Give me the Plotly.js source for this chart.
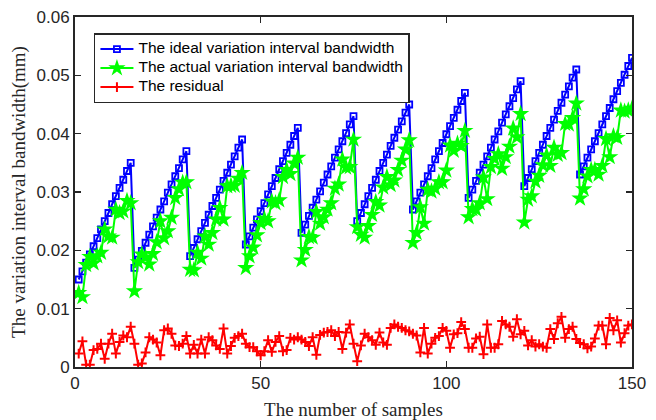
<!DOCTYPE html>
<html>
<head>
<meta charset="utf-8">
<script src="https://cdn.plot.ly/plotly-3.0.1.min.js"></script>
<style>html,body{margin:0;padding:0;background:#fff}#chart{width:656px;height:420px}</style>
</head>
<body>
<div id="chart"></div>
<script>
// sample numbers 1..150
const samples = Array.from({length: 150}, (_, i) => i + 1);

const ideal = [
0.0150,0.0164,0.0179,0.0193,0.0207,0.0221,0.0236,0.0250,0.0264,0.0279,0.0293,0.0307,0.0321,0.0336,0.0350,
0.0170,0.0184,0.0199,0.0213,0.0227,0.0241,0.0256,0.0270,0.0284,0.0299,0.0313,0.0327,0.0341,0.0356,0.0370,
0.0190,0.0204,0.0219,0.0233,0.0247,0.0261,0.0276,0.0290,0.0304,0.0319,0.0333,0.0347,0.0361,0.0376,0.0390,
0.0210,0.0224,0.0239,0.0253,0.0267,0.0281,0.0296,0.0310,0.0324,0.0339,0.0353,0.0367,0.0381,0.0396,0.0410,
0.0230,0.0244,0.0259,0.0273,0.0287,0.0301,0.0316,0.0330,0.0344,0.0359,0.0373,0.0387,0.0401,0.0416,0.0430,
0.0250,0.0264,0.0279,0.0293,0.0307,0.0321,0.0336,0.0350,0.0364,0.0379,0.0393,0.0407,0.0421,0.0436,0.0450,
0.0270,0.0284,0.0299,0.0313,0.0327,0.0341,0.0356,0.0370,0.0384,0.0399,0.0413,0.0427,0.0441,0.0456,0.0470,
0.0290,0.0304,0.0319,0.0333,0.0347,0.0361,0.0376,0.0390,0.0404,0.0419,0.0433,0.0447,0.0461,0.0476,0.0490,
0.0310,0.0324,0.0339,0.0353,0.0367,0.0381,0.0396,0.0410,0.0424,0.0439,0.0453,0.0467,0.0481,0.0496,0.0510,
0.0330,0.0344,0.0359,0.0373,0.0387,0.0401,0.0416,0.0430,0.0444,0.0459,0.0473,0.0487,0.0501,0.0516,0.0530
];

const actual = [
0.0127,0.0120,0.0175,0.0189,0.0178,0.0190,0.0196,0.0236,0.0224,0.0222,0.0270,0.0264,0.0267,0.0285,0.0281,
0.0130,0.0180,0.0193,0.0188,0.0176,0.0194,0.0214,0.0250,0.0221,0.0233,0.0256,0.0290,0.0305,0.0316,0.0317,
0.0167,0.0166,0.0196,0.0186,0.0224,0.0210,0.0230,0.0253,0.0273,0.0253,0.0310,0.0311,0.0311,0.0323,0.0333,
0.0170,0.0190,0.0205,0.0226,0.0247,0.0254,0.0250,0.0284,0.0281,0.0286,0.0326,0.0338,0.0331,0.0349,0.0359,
0.0183,0.0201,0.0223,0.0222,0.0266,0.0246,0.0257,0.0270,0.0281,0.0306,0.0313,0.0356,0.0342,0.0343,0.0390,
0.0240,0.0227,0.0222,0.0242,0.0261,0.0283,0.0277,0.0308,0.0326,0.0312,0.0320,0.0338,0.0354,0.0373,0.0389,
0.0213,0.0230,0.0274,0.0246,0.0304,0.0301,0.0306,0.0317,0.0317,0.0337,0.0380,0.0371,0.0383,0.0379,0.0405,
0.0257,0.0271,0.0270,0.0281,0.0325,0.0288,0.0343,0.0357,0.0365,0.0340,0.0360,0.0378,0.0409,0.0394,0.0434,
0.0248,0.0287,0.0293,0.0318,0.0328,0.0346,0.0363,0.0345,0.0376,0.0364,0.0367,0.0417,0.0416,0.0427,0.0452,
0.0289,0.0305,0.0327,0.0338,0.0338,0.0330,0.0345,0.0391,0.0360,0.0396,0.0393,0.0440,0.0438,0.0440,0.0443
];

const residual = [
0.0023,0.0044,0.0004,0.0004,0.0029,0.0031,0.0040,0.0014,0.0040,0.0057,0.0023,0.0043,0.0054,0.0051,0.0069,
0.0040,0.0004,0.0006,0.0025,0.0051,0.0047,0.0042,0.0020,0.0063,0.0066,0.0057,0.0037,0.0036,0.0040,0.0053,
0.0023,0.0038,0.0023,0.0047,0.0023,0.0051,0.0046,0.0037,0.0031,0.0066,0.0023,0.0036,0.0050,0.0053,0.0057,
0.0040,0.0034,0.0034,0.0027,0.0020,0.0027,0.0046,0.0026,0.0043,0.0053,0.0027,0.0029,0.0050,0.0047,0.0051,
0.0047,0.0043,0.0036,0.0051,0.0021,0.0055,0.0059,0.0060,0.0063,0.0053,0.0060,0.0031,0.0059,0.0073,0.0040,
0.0010,0.0037,0.0057,0.0051,0.0046,0.0038,0.0059,0.0042,0.0038,0.0067,0.0073,0.0069,0.0067,0.0063,0.0061,
0.0057,0.0054,0.0025,0.0067,0.0023,0.0040,0.0050,0.0053,0.0067,0.0062,0.0033,0.0056,0.0058,0.0077,0.0065,
0.0033,0.0033,0.0049,0.0052,0.0022,0.0073,0.0033,0.0033,0.0039,0.0079,0.0073,0.0069,0.0052,0.0082,0.0056,
0.0062,0.0037,0.0046,0.0035,0.0039,0.0035,0.0033,0.0065,0.0048,0.0075,0.0086,0.0050,0.0065,0.0069,0.0048,
0.0041,0.0039,0.0032,0.0035,0.0049,0.0071,0.0071,0.0039,0.0084,0.0063,0.0080,0.0042,0.0058,0.0071,0.0073
];

const seriesNames = [
  'The ideal variation interval bandwidth',
  'The actual variation interval bandwidth',
  'The residual'
];
const xTickVals = [0, 50, 100, 150];
const yTickVals = [0, 0.01, 0.02, 0.03, 0.04, 0.05, 0.06];
const xTitle = 'The number of samples';
const yTitle = 'The variation interval bandwidth(mm)';

// legend text drawn larger than the legend's nominal font so rows stay tight (MATLAB-like)
const legendLabel = s => '<span style="font-size:15.5px">' + s + '</span>';

const traces = [
  {x: samples, y: ideal, name: legendLabel(seriesNames[0]), type: 'scatter', mode: 'lines+markers',
   line: {color: '#0000FF', width: 2},
   marker: {symbol: 'square-open', size: 6, color: '#0000FF', line: {width: 1.8, color: '#0000FF'}}},
  {x: samples, y: actual, name: legendLabel(seriesNames[1]), type: 'scatter', mode: 'lines+markers',
   line: {color: '#00FF00', width: 2},
   marker: {symbol: 'star', size: 13, color: '#00FF00', line: {width: 0}}},
  {x: samples, y: residual, name: legendLabel(seriesNames[2]), type: 'scatter', mode: 'lines+markers',
   line: {color: '#FF0000', width: 2},
   marker: {symbol: 'cross-thin', size: 7, color: '#FF0000', line: {width: 2, color: '#FF0000'}}}
];

const axisCommon = {
  showgrid: false, zeroline: false, showline: true, mirror: 'ticks',
  linecolor: '#262626', linewidth: 2, ticks: 'inside', ticklen: 6, tickwidth: 1.5,
  tickcolor: '#262626',
  tickfont: {family: 'Liberation Sans, Arial, sans-serif', size: 17, color: '#262626'}
};

const layout = {
  width: 656, height: 420,
  margin: {l: 75, r: 24, t: 17, b: 53},
  paper_bgcolor: '#fff', plot_bgcolor: '#fff',
  showlegend: true,
  legend: {
    x: 0.034, y: 0.954, xanchor: 'left', yanchor: 'top',
    bgcolor: '#fff', bordercolor: '#262626', borderwidth: 1.5,
    font: {family: 'Liberation Sans, Arial, sans-serif', size: 11, color: '#000'},
    itemwidth: 33, tracegroupgap: 0
  },
  xaxis: Object.assign({}, axisCommon, {
    range: [0, 150], tickvals: xTickVals,
    title: {text: xTitle, standoff: 10, font: {family: 'Liberation Serif, Times New Roman, serif', size: 19, color: '#262626'}}
  }),
  yaxis: Object.assign({}, axisCommon, {
    range: [0, 0.06], tickvals: yTickVals,
    title: {text: yTitle, standoff: 6, font: {family: 'Liberation Serif, Times New Roman, serif', size: 19, color: '#262626'}}
  })
};

Plotly.newPlot('chart', traces, layout, {displayModeBar: false, staticPlot: true});
</script>
</body>
</html>
